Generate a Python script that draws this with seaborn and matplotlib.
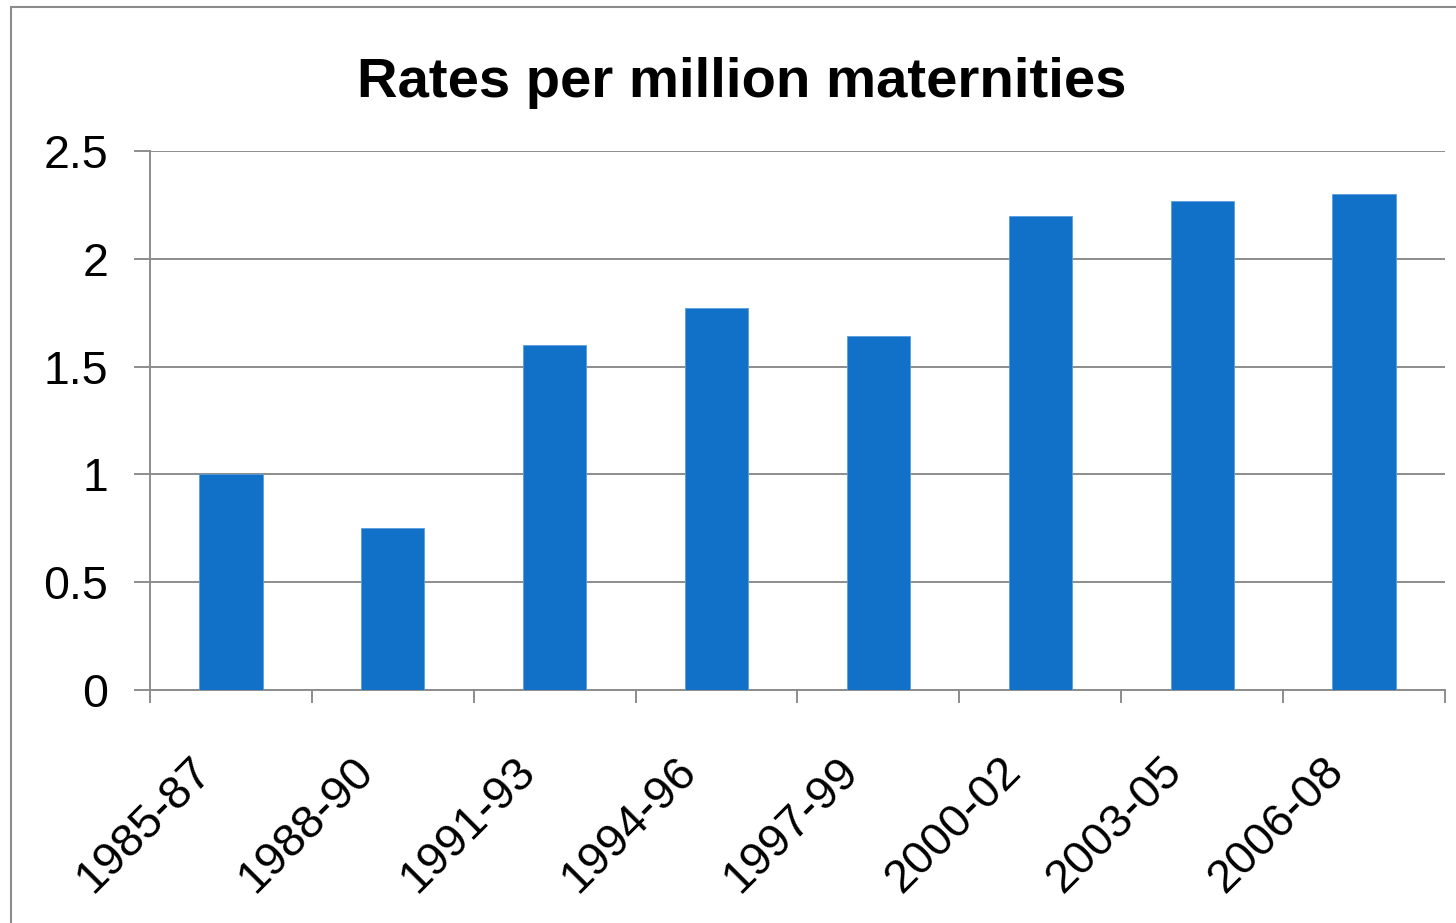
import matplotlib
matplotlib.use("Agg")
import matplotlib.pyplot as plt
import matplotlib.patches as mpatches
import matplotlib.transforms as mtransforms
import seaborn as sns
import pandas as pd

periods = ["1985-87", "1988-90", "1991-93", "1994-96", "1997-99", "2000-02", "2003-05", "2006-08"]
rates = [1.0, 0.75, 1.6, 1.77, 1.64, 2.2, 2.27, 2.3]
yticks = [0, 0.5, 1, 1.5, 2, 2.5]
ytick_labels = ["0", "0.5", "1", "1.5", "2", "2.5"]
title = "Rates per million maternities"

sns.set_theme(style="white")
plt.rcParams["font.family"] = ["Liberation Sans", "DejaVu Sans"]
plt.rcParams["text.color"] = "black"
plt.rcParams["xtick.color"] = "black"
plt.rcParams["ytick.color"] = "black"

W, H = 1456, 923
fig = plt.figure(figsize=(W / 100, H / 100), dpi=100)
fig.patch.set_facecolor("white")
ax = fig.add_axes([150 / W, 1 - 690 / H, (1445 - 150) / W, (690 - 151) / H])

df = pd.DataFrame({"period": periods, "rate": rates})
sns.barplot(data=df, x="period", y="rate", color="#1170C8", saturation=1,
            width=0.39, edgecolor="#5a9ddc", linewidth=0.6, ax=ax, zorder=3)

ax.set_xlim(-0.5, len(periods) - 0.5)
ax.set_ylim(0, 2.5)
ax.set_yticks(yticks)
ax.set_yticklabels(ytick_labels, fontsize=33.5, color="black")
ax.set_xlabel("")
ax.set_ylabel("")

ax.yaxis.grid(True, color="#8c8c8c", linewidth=1.4, zorder=0)
ax.xaxis.grid(False)
ax.set_axisbelow(True)

# category labels (rotated), placed under each category
ax.set_xticks(range(len(periods)))
ax.set_xticklabels([""] * len(periods))
ax.tick_params(axis="x", which="major", length=0)
base = ax.get_xaxis_transform()
offset = mtransforms.ScaledTranslation(-0.42, -0.59, fig.dpi_scale_trans)
for i, p in enumerate(periods):
    ax.text(i, 0, p, transform=base + offset, fontsize=33.5, rotation=45,
            ha="right", va="top", rotation_mode="anchor", color="black", clip_on=False)

ax.set_xticks([i - 0.5 for i in range(len(periods) + 1)], minor=True)
ax.tick_params(axis="x", which="minor", length=9.5, width=1.4, color="#8c8c8c", direction="out", bottom=True)
ax.tick_params(axis="y", which="major", length=11.5, width=1.4, color="#8c8c8c", direction="out", left=True, pad=18.5)

for side in ["top", "right"]:
    ax.spines[side].set_visible(False)
for side in ["left", "bottom"]:
    ax.spines[side].set_color("#8c8c8c")
    ax.spines[side].set_linewidth(1.4)

fig.text(742 / W, 1 - 97 / H, title, fontsize=40.5, fontweight="bold", ha="center", va="baseline", color="black")

border = mpatches.Rectangle((11 / W, -0.05), 1.2, 1 - 7 / H + 0.05, transform=fig.transFigure,
                            fill=False, edgecolor="#8c8c8c", linewidth=1.5)
fig.patches.append(border)

fig.savefig("out.png", dpi=100, facecolor="white")
